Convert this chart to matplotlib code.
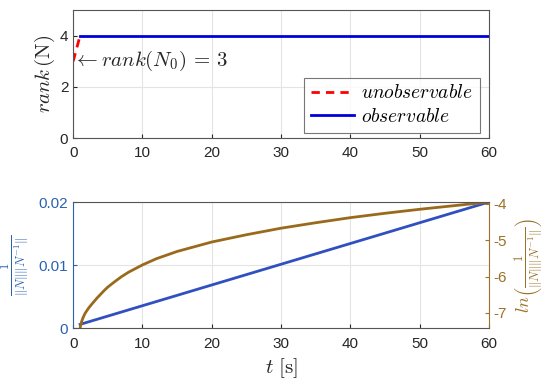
import matplotlib
matplotlib.use("Agg")
import matplotlib.pyplot as plt
import numpy as np

plt.rcParams['font.family'] = ['Liberation Sans', 'DejaVu Sans']
plt.rcParams['mathtext.fontset'] = 'cm'
plt.rcParams['axes.unicode_minus'] = False

# --- data ---
t_unobs = [0, 1]
rank_unobs = [3, 4]
t_obs = [1, 60]
rank_obs = [4, 4]

t_cond = [1, 60]
cond_inv = [0.0006, 0.02]

t_log = [1, 1.1, 1.2, 1.35, 1.5, 1.7, 2, 2.3, 2.6, 3, 3.5, 4, 4.5, 5, 6, 7, 8, 10, 12, 15,
         20, 25, 30, 35, 40, 45, 50, 55, 60]
log_cond = [-7.42, -7.33, -7.25, -7.17, -7.1, -7.02, -6.93, -6.85, -6.78, -6.69, -6.58, -6.48,
            -6.38, -6.29, -6.14, -6.0, -5.88, -5.68, -5.51, -5.31, -5.05, -4.85, -4.67, -4.52,
            -4.38, -4.26, -4.15, -4.05, -3.95]

gray = '#262626'
blue_ax = '#2a62b0'
brown_ax = '#9a7126'

fig = plt.figure(figsize=(5.5, 3.87), dpi=100)

# Top axes
ax1 = fig.add_axes([0.133, 0.643, 0.756, 0.331])
ax1.plot(t_unobs, rank_unobs, color='#ff0000', ls=(0, (3, 2.2)), lw=2, label='$unobservable$')
ax1.plot(t_obs, rank_obs, color='#0000dd', lw=2, label='$observable$')
ax1.set_xlim(0, 60)
ax1.set_ylim(0, 5)
ax1.set_yticks([0, 2, 4])
ax1.set_xticks(range(0, 61, 10))
ax1.grid(True, color='#e4e4e4', lw=0.8)
ax1.set_axisbelow(True)
ax1.tick_params(direction='in', colors=gray, labelsize=11, length=3)
ax1.tick_params(axis='x', pad=6)
for s in ax1.spines.values():
    s.set_color('#555555')
    s.set_linewidth(0.8)
ax1.set_ylabel(r'$rank\,(\mathrm{N})$', fontsize=15, color=gray, labelpad=2)
ax1.text(0, 3, r'$\leftarrow rank(N_0)\,=\,3$', fontsize=15, color=gray, va='center', ha='left')
leg = ax1.legend(loc='lower right', fontsize=14, frameon=True, fancybox=False,
                 edgecolor='#555555', handlelength=2.2, borderpad=0.35, labelspacing=0.3,
                 handletextpad=0.4, borderaxespad=0, bbox_to_anchor=(0.978, 0.04))
leg.get_frame().set_linewidth(0.8)

# Bottom axes
ax2 = fig.add_axes([0.133, 0.152, 0.756, 0.326])
ax2.plot(t_cond, cond_inv, color='#3050c0', lw=2)
ax2.set_xlim(0, 60)
ax2.set_ylim(0, 0.02)
ax2.set_yticks([0, 0.01, 0.02])
ax2.set_yticklabels(['0', '0.01', '0.02'])
ax2.set_xticks(range(0, 61, 10))
ax2.grid(True, color='#e4e4e4', lw=0.8)
ax2.set_axisbelow(True)
ax2.tick_params(axis='x', direction='in', colors=gray, labelsize=11, length=3, pad=6)
ax2.tick_params(axis='y', direction='in', colors=blue_ax, labelsize=11, length=3)
ax2.set_xlabel(r'$t\ [\mathrm{s}]$', fontsize=15, color=gray, labelpad=4)
ax2.set_ylabel(r'$\frac{1}{\|N\|\|N^{-1}\|}$', fontsize=13, color=blue_ax, labelpad=5)

ax3 = ax2.twinx()
ax3.plot(t_log, log_cond, color='#9a6a1c', lw=2)
ax3.set_ylim(-7.42, -3.95)
ax3.set_yticks([-7, -6, -5, -4])
ax3.tick_params(axis='y', direction='in', colors=brown_ax, labelsize=11, length=3)
ax3.set_ylabel(r'$ln\left(\frac{1}{\|N\|\|N^{-1}\|}\right)$', fontsize=13, color=brown_ax, rotation=90, labelpad=4)
for s in ax3.spines.values():
    s.set_color('#555555')
    s.set_linewidth(0.8)
ax3.spines['left'].set_color(blue_ax)
ax3.spines['right'].set_color(brown_ax)
for s in ax2.spines.values():
    s.set_visible(False)

fig.savefig('out.png', dpi=100)
